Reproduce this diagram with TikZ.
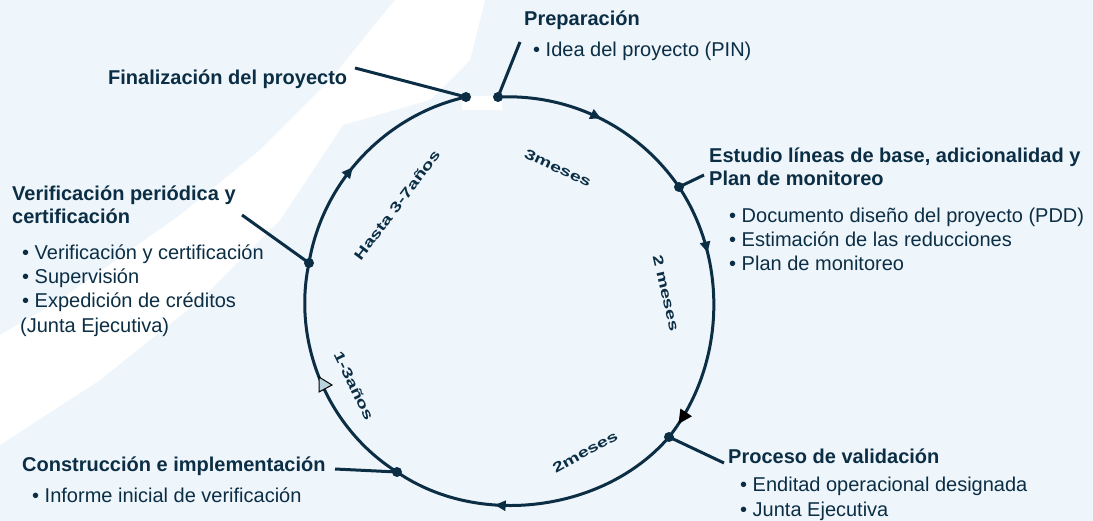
\documentclass[tikz,border=0pt]{standalone}
\usepackage{fontspec}
\usepackage{graphicx}
\setmainfont{Liberation Sans}
\usetikzlibrary{arrows.meta,decorations.markings,calc}
\definecolor{ink}{HTML}{0B2E45}
\definecolor{bg}{HTML}{EEF5FB}
\definecolor{tipgray}{HTML}{B8D3DB}
\newcommand\widetxt[1]{\scalebox{1.4}[1]{#1}}
\begin{document}
\begin{tikzpicture}[x=1pt,y=-1pt,
  title/.style={anchor=base west,inner sep=0pt,font=\fontsize{20}{23}\selectfont\bfseries,text=ink},
  item/.style={anchor=base west,inner sep=0pt,font=\fontsize{20}{24}\selectfont,text=ink},
  dur/.style={inner sep=0pt,font=\fontsize{14}{14}\selectfont\bfseries,text=ink},
  dot/.style={circle,fill=ink,inner sep=0pt,minimum size=10pt},
  ring/.style={draw=ink,line width=3pt,looseness=0.92},
  lead/.style={draw=ink,line width=3pt},
  tipmark/.style={postaction={decorate},decoration={markings,
      mark=at position #1 with {\arrow[ink]{Triangle[length=11pt,width=10pt]}}}},
  ]
\useasboundingbox (0,0) rectangle (1093,521);
% background
\fill[bg] (0,0) rectangle (1093,521);
\fill[white] (395,0) -- (485,0) -- (470,60) -- (430,100) -- (343,125) -- (280,220)
  -- (200,300) -- (100,380) -- (0,445) -- (0,335) -- (60,300) -- (180,215)
  -- (260,150) -- (330,80) -- cycle;
\fill[white] (462,96) rectangle (502,110);

% stage dots
\node[dot] (fin)  at (466,97) {};
\node[dot] (prep) at (498,97) {};
\node[dot] (est)  at (679,187) {};
\node[dot] (proc) at (669,437) {};
\node[dot] (cons) at (397,472) {};
\node[dot] (ver)  at (309,263) {};

% ring segments (clockwise)
\draw[ring,tipmark=0.505] (prep.center) to[bend left=29] (est.center);
\draw[ring,postaction={decorate},decoration={markings,
   mark=at position 0.27 with {\arrow[ink]{Triangle[length=11pt,width=10pt]}},
   mark=at position 0.94 with {\arrow[black]{Triangle[length=14pt,width=13pt]}}}]
   (est.center) to[bend left=36] (proc.center);
\draw[ring,tipmark=0.65] (proc.center) to[bend left=42] (cons.center);
\draw[ring] (cons.center) to[bend left=35] (ver.center);
\draw[ring,tipmark=0.44] (ver.center) to[bend left=34] (fin.center);
\fill[tipgray,draw=black,line width=1pt] (319,377) -- (332,385) -- (319,392) -- cycle;

% texts
\node[title] (prepT) at (524,26) {Preparación};
\node[item]  (prep1) at (533,57) {• Idea del proyecto (PIN)};
\node[title] (finT)  at (108,85) {Finalización del proyecto};
\node[title] (estT)  at (709,163) {Estudio líneas de base, adicionalidad y};
\node[title] (estT2) at (709,186) {Plan de monitoreo};
\node[item]  (est1)  at (729,223) {• Documento diseño del proyecto (PDD)};
\node[item]  (est2)  at (729,247) {• Estimación de las reducciones};
\node[item]  (est3)  at (729,271) {• Plan de monitoreo};
\node[title] (verT)  at (12,201) {Verificación periódica y};
\node[title] (verT2) at (12,224) {certificación};
\node[item]  (ver1)  at (22,260) {• Verificación y certificación};
\node[item]  (ver2)  at (22,284) {• Supervisión};
\node[item]  (ver3)  at (22,308) {• Expedición de créditos};
\node[item]  (ver4)  at (20,333) {(Junta Ejecutiva)};
\node[title] (consT) at (22,471) {Construcción e implementación};
\node[item]  (cons1) at (32,502) {• Informe inicial de verificación};
\node[title] (procT) at (728,463) {Proceso de validación};
\node[item]  (proc1) at (740,491) {• Enditad operacional designada};
\node[item]  (proc2) at (740,516) {• Junta Ejecutiva};

% leader lines
\coordinate (prepL) at (520,42);
\coordinate (finL)  at (355,68);
\coordinate (estL)  at (704,175);
\coordinate (verL)  at (242,215);
\coordinate (consL) at (335,469);
\coordinate (procL) at (724,463);
\draw[lead] (prep.center) -- (prepL);
\draw[lead] (finL) -- (fin.center);
\draw[lead] (est.center) -- (estL);
\draw[lead] (verL) -- (ver.center);
\draw[lead] (consL) -- (cons.center);
\draw[lead] (proc.center) -- (procL);

% durations
\node[dur,rotate=-25] (d1) at (558,168) {\widetxt{3meses}};
\node[dur,rotate=-77] (d2) at (666,293) {\widetxt{2 meses}};
\node[dur,rotate=29]  (d3) at (585,452) {\widetxt{2meses}};
\node[dur,rotate=-64] (d4) at (354,386) {\widetxt{1-3años}};
\node[dur,rotate=53]  (d5) at (397,205) {\widetxt{Hasta 3-7años}};
\end{tikzpicture}
\end{document}
